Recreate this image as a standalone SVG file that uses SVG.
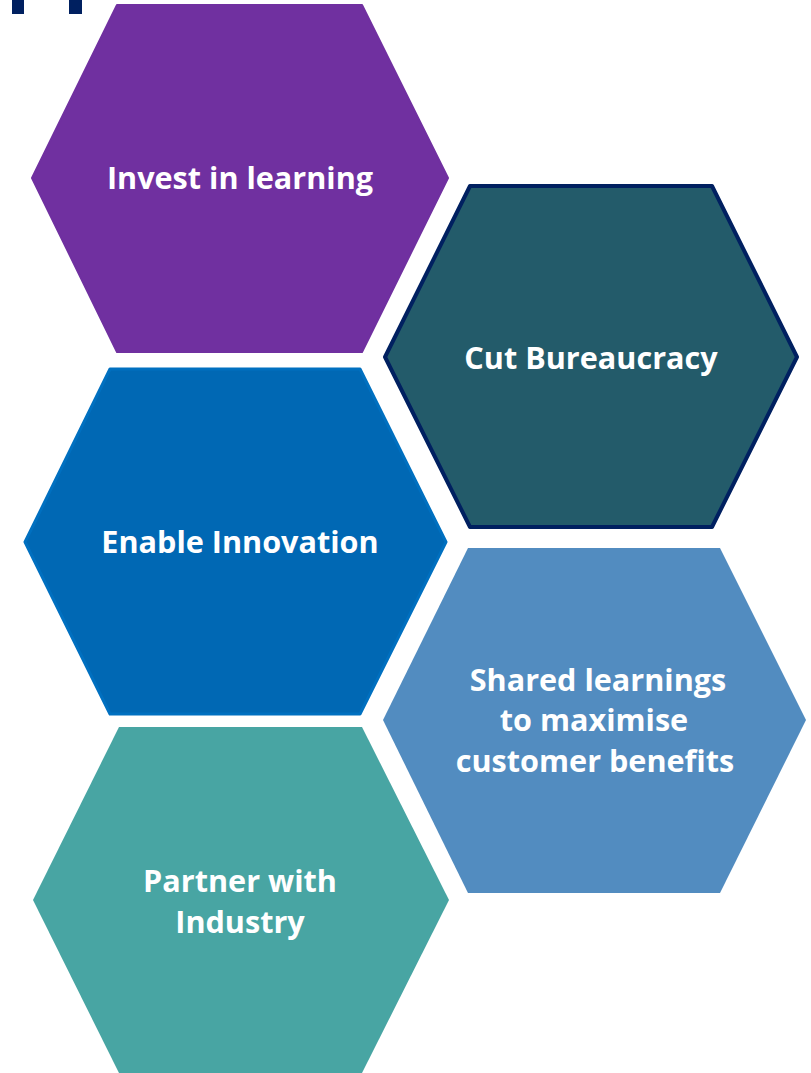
<svg xmlns="http://www.w3.org/2000/svg" width="811" height="1073" viewBox="0 0 811 1073">
<style>
.t{font-family:"Open Sans","Liberation Sans",sans-serif;font-weight:bold;font-size:30.6px;fill:#fff;text-anchor:middle}
.h{stroke-linejoin:round}
</style>
<rect width="811" height="1073" fill="#fff"/>
<g id="marks" fill="#002060">
<rect x="12" y="0" width="12" height="14"/>
<rect x="69" y="0" width="13" height="14"/>
</g>
<g id="connectors"></g>
<g id="n1">
<polygon class="h" points="117,5 362,5 448,178 362,352 117,352 32,178" fill="#7030A0" stroke="#7030A0" stroke-width="2"/>
<text class="t" x="240" y="189">Invest in learning</text>
</g>
<g id="n2">
<polygon class="h" points="470,186 712,186 797,357 712,527 470,527 385,357" fill="#235B6A" stroke="#002060" stroke-width="4"/>
<text class="t" x="591" y="369">Cut Bureaucracy</text>
</g>
<g id="n3">
<polygon class="h" points="110,369 360,369 446,542 360,714 110,714 25,542" fill="#0068B4" stroke="#0070C0" stroke-width="3"/>
<text class="t" x="240" y="553">Enable Innovation</text>
</g>
<g id="n4">
<polygon class="h" points="468,548 720,548 806,720 720,893 468,893 383,720" fill="#528CC0"/>
<text class="t" x="598" y="691">Shared learnings</text>
<text class="t" x="594" y="731">to maximise</text>
<text class="t" x="595" y="772">customer benefits</text>
</g>
<g id="n5">
<polygon class="h" points="119,727 362,727 449,900 362,1073 119,1073 33,900" fill="#48A5A3"/>
<text class="t" x="240" y="892">Partner with</text>
<text class="t" x="240" y="933">Industry</text>
</g>
</svg>
